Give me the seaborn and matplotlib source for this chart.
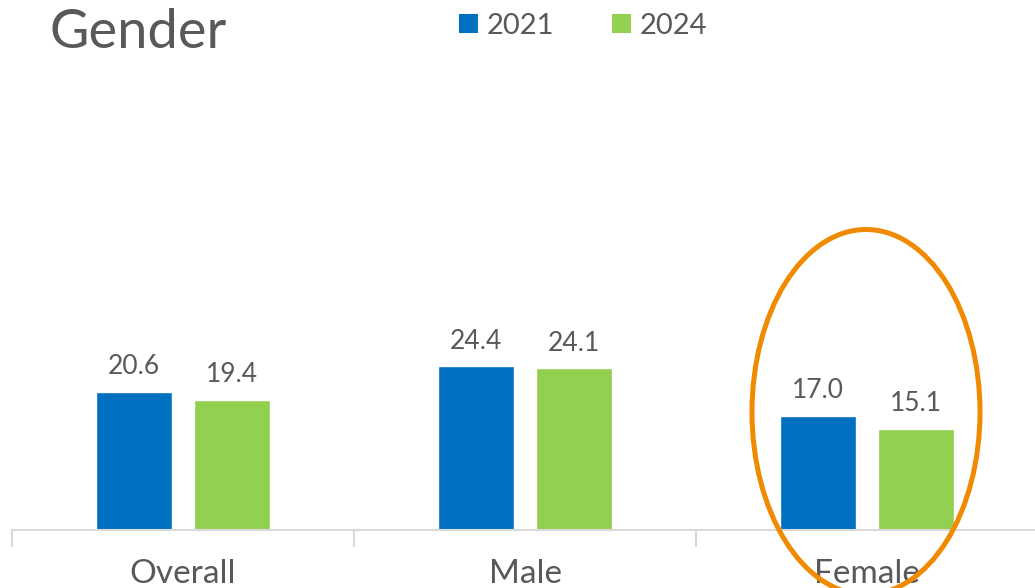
import matplotlib
matplotlib.use("Agg")
import pandas as pd
import seaborn as sns
import matplotlib.pyplot as plt
from matplotlib.patches import Ellipse, Patch

# data
categories = ["Overall", "Male", "Female"]
years = ["2021", "2024"]
values_2021 = [20.6, 24.4, 17.0]
values_2024 = [19.4, 24.1, 15.1]
colors = ["#0070C0", "#92D050"]

df = pd.DataFrame({
    "group": categories * 2,
    "year": [years[0]] * len(categories) + [years[1]] * len(categories),
    "value": values_2021 + values_2024,
})

sns.set_style("white")
plt.rcParams["font.family"] = ["Lato", "DejaVu Sans"]
txt = "#595959"
grey = "#D9D9D9"

W, H = 1035, 588
fig = plt.figure(figsize=(W / 100, H / 100), dpi=100)
ax = fig.add_axes([12 / W, (H - 530) / H, 1026 / W, 470 / H])

sns.barplot(data=df, x="group", y="value", hue="year", palette=colors,
            saturation=1, width=0.575, gap=0.225, ax=ax, legend=False)

for c in ax.containers:
    ax.bar_label(c, fmt="%.1f", padding=9, fontsize=19, color=txt)

ax.set_ylim(0, 70)
ax.set_xlim(-0.5, 2.5)
ax.set_yticks([])
ax.set_xlabel("")
ax.set_ylabel("")
sns.despine(ax=ax, left=True)
ax.spines["bottom"].set_color(grey)
ax.spines["bottom"].set_linewidth(1.5)

ax.set_xticks([-0.5, 0.5, 1.5, 2.5], minor=True)
ax.tick_params(axis="x", which="minor", bottom=True, length=12, width=1.5, color=grey)
ax.tick_params(axis="x", which="major", bottom=False, length=0, pad=21, labelsize=24, labelcolor=txt)

fig.text(50 / W, 1 - 32 / H, "Gender", fontsize=39, color=txt, va="center", ha="left")

handles = [Patch(facecolor=c, edgecolor="none") for c in colors]
fig.legend(handles, years, loc="center", bbox_to_anchor=(583 / W, 1 - 26 / H), ncol=2,
           frameon=False, fontsize=21, labelcolor=txt, handlelength=0.65, handleheight=0.65,
           handletextpad=0.3, columnspacing=2.0)

fig.add_artist(Ellipse((866 / W, 1 - 412 / H), 228 / W, 365 / H, transform=fig.transFigure,
                       fill=False, edgecolor="#F08A00", lw=3.6))

fig.savefig("out.png", dpi=100)
